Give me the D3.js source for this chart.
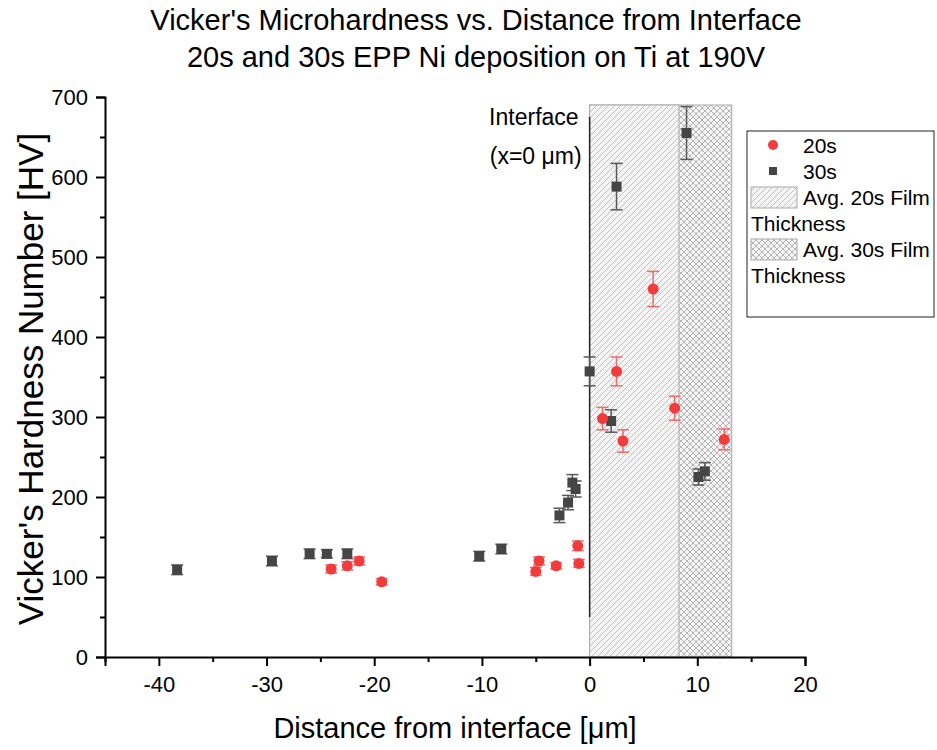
<!DOCTYPE html>
<html>
<head>
<meta charset="utf-8">
<script src="https://cdn.jsdelivr.net/npm/d3@7"></script>
<style>
  body { margin: 0; background: #fff; }
  svg { font-family: "Liberation Sans", Arial, sans-serif; }
</style>
</head>
<body>
<svg id="chart" width="937" height="750"></svg>
<script>
// 20s deposition: distance [um], hardness [HV], error
const x20 = [-24.0, -22.5, -21.4, -19.3, -5.0, -4.7, -3.1, -1.1, -1.0, 1.2, 2.5, 3.1, 5.9, 7.9, 12.5];
const y20 = [110, 114, 120, 94, 107, 120, 114, 139, 117, 298, 357, 270, 460, 311, 272];
const e20 = [5, 5, 5, 4, 5, 5, 4, 6, 5, 14, 18, 14, 22, 15, 13];

// 30s deposition
const x30 = [-38.3, -29.5, -26.0, -24.4, -22.5, -10.25, -8.2, -2.8, -2.0, -1.6, -1.3, 0.0, 2.0, 2.5, 9.0, 10.1, 10.7];
const y30 = [109, 120, 129, 129, 129, 126, 135, 177, 193, 218, 210, 357, 295, 588, 655, 225, 232];
const e30 = [6, 6, 6, 5, 6, 6, 6, 9, 9, 10, 10, 18, 14, 29, 33, 10, 11];

// film thickness bands
const film20 = [0, 8.3];
const film30 = [0, 13.2];
const filmTop = 690;
const interfaceLine = [50, 675];

const xTicks = [-40, -30, -20, -10, 0, 10, 20];
const yTicks = [0, 100, 200, 300, 400, 500, 600, 700];

const margin = { top: 97, right: 132, bottom: 93, left: 105 };
const W = 937, H = 750;

const svg = d3.select('#chart');
const x = d3.scaleLinear().domain([-45, 20]).range([margin.left, W - margin.right]);
const y = d3.scaleLinear().domain([0, 700]).range([H - margin.bottom, margin.top]);

// patterns
const defs = svg.append('defs');
const p20 = defs.append('pattern').attr('id', 'hatch20').attr('patternUnits', 'userSpaceOnUse')
    .attr('width', 6).attr('height', 6);
p20.append('rect').attr('width', 6).attr('height', 6).attr('fill', '#f4f4f4');
p20.append('path').attr('d', 'M0,6 L6,0 M-1,1 L1,-1 M5,7 L7,5')
    .attr('stroke', '#c2c2c2').attr('stroke-width', 1);

const p30 = defs.append('pattern').attr('id', 'hatch30').attr('patternUnits', 'userSpaceOnUse')
    .attr('width', 6).attr('height', 6);
p30.append('rect').attr('width', 6).attr('height', 6).attr('fill', '#f4f4f4');
p30.append('path').attr('d', 'M0,6 L6,0 M-1,1 L1,-1 M5,7 L7,5 M0,0 L6,6 M-1,5 L1,7 M5,-1 L7,1')
    .attr('stroke', '#b4b4b4').attr('stroke-width', 1);

// film bands
svg.append('rect')
    .attr('x', x(film30[0])).attr('y', y(filmTop))
    .attr('width', x(film30[1]) - x(film30[0])).attr('height', y(0) - y(filmTop))
    .attr('fill', 'url(#hatch30)').attr('stroke', '#aaa').attr('stroke-width', 1);
svg.append('rect')
    .attr('x', x(film20[0])).attr('y', y(filmTop))
    .attr('width', x(film20[1]) - x(film20[0])).attr('height', y(0) - y(filmTop))
    .attr('fill', 'url(#hatch20)').attr('stroke', '#aaa').attr('stroke-width', 1);

// interface line
svg.append('line')
    .attr('x1', x(0)).attr('x2', x(0))
    .attr('y1', y(interfaceLine[0])).attr('y2', y(interfaceLine[1]))
    .attr('stroke', '#222').attr('stroke-width', 1.5);

svg.append('text').attr('x', x(0) - 11).attr('y', 125)
    .attr('text-anchor', 'end').attr('font-size', 23).text('Interface');
svg.append('text').attr('x', x(0) - 8).attr('y', 164)
    .attr('text-anchor', 'end').attr('font-size', 23).text('(x=0 \u03bcm)');

// axes
svg.append('g').attr('transform', `translate(0,${y(0)})`)
    .call(d3.axisBottom(x).tickValues(xTicks).tickSize(9).tickPadding(10).tickFormat(d => String(d)));
svg.append('g').attr('transform', `translate(${x(-45)},0)`)
    .call(d3.axisLeft(y).tickValues(yTicks).tickSize(9).tickPadding(8));

// minor ticks
svg.append('g').attr('transform', `translate(0,${y(0)})`)
    .call(d3.axisBottom(x).tickValues([-45, -35, -25, -15, -5, 5, 15]).tickSize(5).tickFormat(''))
    .select('.domain').remove();
svg.append('g').attr('transform', `translate(${x(-45)},0)`)
    .call(d3.axisLeft(y).tickValues([50, 150, 250, 350, 450, 550, 650]).tickSize(5).tickFormat(''))
    .select('.domain').remove();

svg.selectAll('.domain').attr('stroke-width', 2).attr('stroke', '#000');
svg.selectAll('.tick line').attr('stroke-width', 2).attr('stroke', '#000');
svg.selectAll('.tick text').attr('font-size', 22).attr('fill', '#000')
    .attr('font-family', '"Liberation Sans", Arial, sans-serif');

// error bars + markers
function series(xs, ys, es, color, barColor, shape) {
    const data = xs.map((d, i) => ({ x: d, y: ys[i], e: es[i] }));
    const g = svg.append('g');
    const eb = g.selectAll('.eb').data(data).enter().append('g');
    eb.append('line').attr('x1', d => x(d.x)).attr('x2', d => x(d.x))
        .attr('y1', d => y(d.y - d.e)).attr('y2', d => y(d.y + d.e))
        .attr('stroke', barColor).attr('stroke-width', 1.5);
    [-1, 1].forEach(s => {
        eb.append('line').attr('x1', d => x(d.x) - 6).attr('x2', d => x(d.x) + 6)
            .attr('y1', d => y(d.y + s * d.e)).attr('y2', d => y(d.y + s * d.e))
            .attr('stroke', barColor).attr('stroke-width', 1.5);
    });
    if (shape === 'circle') {
        g.selectAll('.m').data(data).enter().append('circle')
            .attr('cx', d => x(d.x)).attr('cy', d => y(d.y)).attr('r', 5.5).attr('fill', color);
    } else {
        g.selectAll('.m').data(data).enter().append('rect')
            .attr('x', d => x(d.x) - 5).attr('y', d => y(d.y) - 5)
            .attr('width', 10).attr('height', 10).attr('fill', color);
    }
}
series(x30, y30, e30, '#454545', '#5a5a5a', 'square');
series(x20, y20, e20, '#f23b3b', '#ec6b6b', 'circle');

// titles
svg.append('text').attr('x', 476).attr('y', 30).attr('text-anchor', 'middle')
    .attr('font-size', 29).text("Vicker's Microhardness vs. Distance from Interface");
svg.append('text').attr('x', 476).attr('y', 67).attr('text-anchor', 'middle')
    .attr('font-size', 29).text('20s and 30s EPP Ni deposition on Ti at 190V');

svg.append('text').attr('x', (x(-45) + x(20)) / 2).attr('y', 738).attr('text-anchor', 'middle')
    .attr('font-size', 29).text('Distance from interface [\u03bcm]');
svg.append('text')
    .attr('transform', `translate(43,${(y(0) + y(700)) / 2 + 2}) rotate(-90)`)
    .attr('text-anchor', 'middle').attr('font-size', 35).text("Vicker's Hardness Number [HV]");

// legend
const lg = svg.append('g');
lg.append('rect').attr('x', 747).attr('y', 131).attr('width', 187).attr('height', 186)
    .attr('fill', '#fff').attr('stroke', '#222').attr('stroke-width', 1);
lg.append('circle').attr('cx', 773).attr('cy', 145).attr('r', 5).attr('fill', '#f23b3b');
lg.append('text').attr('x', 803).attr('y', 153).attr('font-size', 21).text('20s');
lg.append('rect').attr('x', 769).attr('y', 167).attr('width', 8).attr('height', 8).attr('fill', '#454545');
lg.append('text').attr('x', 803).attr('y', 179).attr('font-size', 21).text('30s');
lg.append('rect').attr('x', 751).attr('y', 187).attr('width', 46).attr('height', 21)
    .attr('fill', 'url(#hatch20)').attr('stroke', '#aaa');
lg.append('text').attr('x', 803).attr('y', 205).attr('font-size', 21).text('Avg. 20s Film');
lg.append('text').attr('x', 751).attr('y', 231).attr('font-size', 21).text('Thickness');
lg.append('rect').attr('x', 751).attr('y', 239).attr('width', 46).attr('height', 21)
    .attr('fill', 'url(#hatch30)').attr('stroke', '#aaa');
lg.append('text').attr('x', 803).attr('y', 257).attr('font-size', 21).text('Avg. 30s Film');
lg.append('text').attr('x', 751).attr('y', 283).attr('font-size', 21).text('Thickness');
</script>
</body>
</html>
